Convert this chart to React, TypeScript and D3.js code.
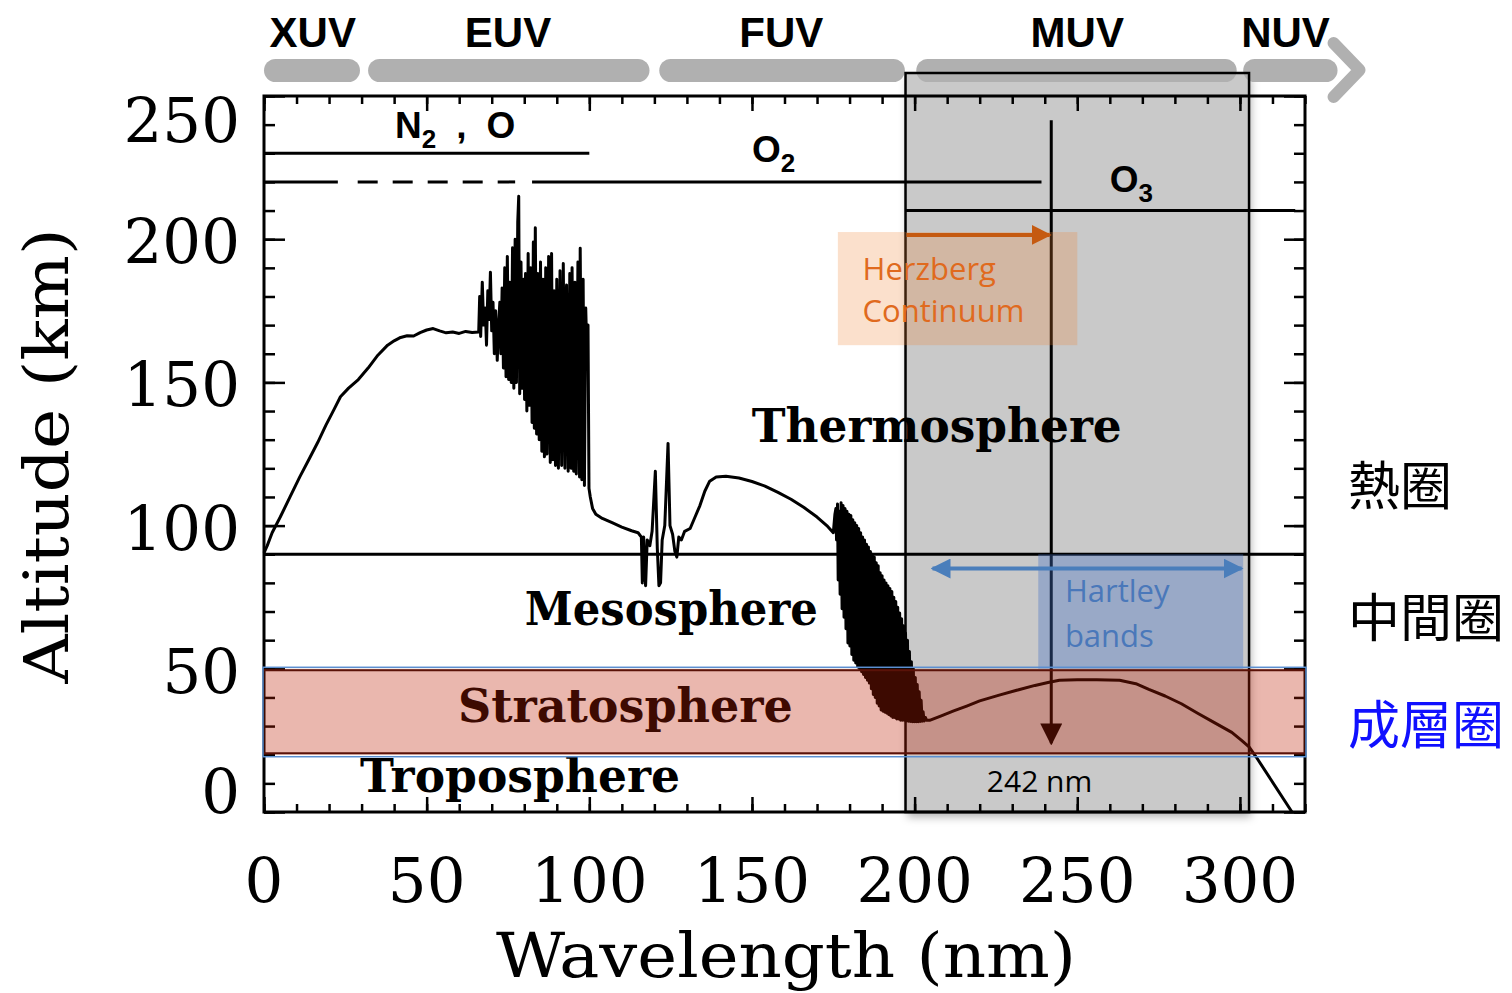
import React, { useEffect, useRef } from 'react';
import * as d3 from 'd3';

// spectral regions shown as grey bars above the plot (nm)
const uvBands = ['XUV', 'EUV', 'FUV', 'MUV', 'NUV'];
const uvStart = [0, 32, 121.5, 200.5, 301];
const uvEnd = [29.5, 118.5, 197, 299, 330];
const uvLabelAt = [15, 75, 159, 250, 314];

const xTickLabels = [0, 50, 100, 150, 200, 250, 300];
const yTickLabels = [0, 50, 100, 150, 200, 250];

// altitude of unit optical depth, [wavelength nm, altitude km]
const smoothPart: [number, number][] = [
    [0, 90.5], [1, 93], [2.5, 97.5], [5, 103], [8, 110], [11, 117], [14, 123.5], [16.5, 129],
    [19, 135], [21.5, 140.5], [23.5, 145], [26, 148], [29, 151], [32, 155], [35, 159.5], [38, 163],
    [40, 164.5], [42, 165.7], [44, 166.3], [46, 166.2], [48, 167.4], [50, 168.3], [52, 168.8],
    [54, 168], [56, 167.3], [58, 167.6], [60, 167.1], [62, 167.8], [64, 167.4], [66, 167.6],
];
const euvBandsPart: [number, number][] = [
    [66.3, 180], [66.6, 166], [67.1, 185], [67.5, 170], [68, 176], [68.4, 163], [68.8, 182], [69.2, 172],
    [69.6, 188.5], [70, 168], [70.4, 178], [70.8, 160], [71.2, 175], [71.7, 157.7], [72.1, 170], [72.5, 178],
    [72.8, 160], [73.2, 183], [73.6, 155], [74, 190], [74.4, 152], [74.8, 194], [75.2, 151], [75.6, 185],
    [76, 150], [76.4, 197], [76.8, 148], [77.2, 200], [77.6, 150], [78, 206], [78.3, 215], [78.6, 146],
    [79, 192], [79.4, 148], [79.8, 186], [80.1, 144], [80.4, 188], [80.8, 140], [81.2, 195], [81.6, 142],
    [82, 190], [82.4, 136], [82.8, 199], [83.1, 134], [83.4, 204], [83.8, 132], [84.2, 188], [84.6, 130],
    [85, 192], [85.4, 126], [85.8, 186], [86.2, 124], [86.6, 190], [87, 125], [87.5, 194], [88, 122],
    [88.4, 195], [88.8, 123], [89.2, 182], [89.6, 121], [90, 186], [90.5, 120], [91, 189], [91.5, 121],
    [92, 191.5], [92.5, 120], [93, 184], [93.5, 119], [94, 188], [94.4, 120], [94.7, 190], [95.2, 119],
    [95.6, 185], [96, 118], [96.5, 192], [97, 117], [97.2, 196.8], [97.7, 116], [98.1, 186], [98.5, 114],
    [98.9, 176], [99.3, 157.7], [99.6, 170], [99.9, 113], [100.3, 110],
];
const lymanPart: [number, number][] = [
    [101, 106], [102, 104], [104, 102.5], [107, 101], [110, 99.5], [113, 98.2], [115, 97.5], [116, 96],
    [116.3, 80], [116.7, 96], [117.3, 79], [117.8, 95], [118.6, 93], [119.3, 98], [120.3, 119], [120.9, 92],
    [121.4, 79], [121.9, 80], [122.4, 95], [123.2, 100], [124.2, 128.7], [124.8, 100], [125.6, 97],
    [126.3, 91], [126.9, 89], [127.5, 96], [128.3, 95], [129.3, 98], [131, 99], [132.5, 103], [134, 107],
    [135.5, 112], [137, 115.5], [139, 117], [142, 117.2], [146, 116.6], [150, 115.4], [154, 113.8],
    [158, 111.6], [162, 109.2], [166, 106.3], [170, 103], [173, 100], [175, 97.5],
];
const srBandsPart: [number, number][] = [
    [175.5, 104], [175.8, 106], [176.0, 95], [176.3, 107.5], [176.5, 81], [176.8, 105], [177.1, 76],
    [177.4, 108], [177.7, 71], [178.0, 107], [178.3, 68], [178.6, 106], [178.9, 64], [179.2, 105],
    [179.5, 59], [179.8, 104], [180.1, 58], [180.4, 103.5], [180.7, 55], [181.0, 102], [181.3, 53],
    [181.6, 101], [181.9, 52], [182.2, 100], [182.5, 50.6], [182.8, 99], [183.1, 50], [183.4, 97.5],
    [183.7, 49], [184.0, 96], [184.3, 48], [184.6, 95], [184.9, 47], [185.2, 93.5], [185.5, 46],
    [185.8, 92.5], [186.1, 45], [186.4, 91], [186.7, 43], [187.0, 90], [187.3, 41], [187.6, 89],
    [187.9, 40], [188.2, 87], [188.5, 38], [188.8, 86], [189.1, 37], [189.4, 83.5], [189.7, 35.6],
    [190.0, 82.5], [190.3, 35.2], [190.6, 81], [190.9, 34.8], [191.2, 80], [191.5, 34.5], [191.8, 79],
    [192.1, 34], [192.4, 78], [192.7, 33.5], [193.0, 77], [193.3, 33], [193.6, 75], [193.9, 33],
    [194.2, 73.5], [194.5, 32.5], [194.8, 71.5], [195.1, 32.5], [195.4, 69.5], [195.7, 32], [196.0, 67.5],
    [196.3, 32], [196.6, 65], [196.9, 32], [197.2, 62.5], [197.5, 31.8], [197.8, 60], [198.1, 31.7],
    [198.4, 56], [198.7, 31.6], [199.0, 52.5], [199.3, 31.5], [199.6, 50], [199.9, 31.5], [200.2, 47],
    [200.5, 31.5], [200.8, 44.5], [201.1, 31.5], [201.4, 42], [201.7, 31.6], [202.0, 39], [202.3, 31.7],
    [202.6, 35], [202.9, 31.8], [203.3, 33], [203.7, 32],
];
const ozonePart: [number, number][] = [
    [204.6, 32], [208, 33.5], [212, 35.3], [216, 37], [220, 38.8], [226, 40.8], [232, 42.7], [237, 44.2],
    [241, 45.2], [244.5, 46], [250, 46.2], [256, 46.2], [263, 46], [268, 44.8], [272, 42.8], [277, 40.5],
    [282, 37.8], [287, 34.5], [292, 31.3], [297.5, 27.8], [300.5, 25], [302.8, 22.7], [305, 19.2], [316, 0],
];

// absorber boundaries: N2/O, O2, O3 (km) and wavelength spans (nm)
const absorberAlt = [230, 220, 210];
const absorberFrom = [0, 0, 197.2];
const absorberTo = [100, 239, 317];
const o2Dashed = [28.8, 77.2];
const o2Gap = [22.7, 82.4];

const layerNames = ['Thermosphere', 'Mesosphere', 'Stratosphere', 'Troposphere'];
const zhLayers = ['熱圈', '中間圈', '成層圈'];
const mesopause = 90;
const stratosphere = [20, 50];

const muvWindow = [197.2, 302.8];
const herzbergBox = [176.4, 250, 163, 202.5];
const hartleyBox = [238, 301, 50, 90];
const herzbergArrow = [197.5, 241.5, 201.5];
const hartleyArrow = [205.5, 300.5, 85];
const cutoff = 242;
const cutoffArrow = [241.5, 24];

const App = () => {
    const ref = useRef<SVGSVGElement>(null);

    useEffect(() => {
        const svg = d3.select(ref.current);
        svg.selectAll('*').remove();

        const x = d3.scaleLinear().domain([0, 320]).range([264, 1305]);
        const y = d3.scaleLinear().domain([0, 250]).range([812, 96]);
        const serif = '"DejaVu Serif", serif';
        const sans = '"Liberation Sans", Arial, sans-serif';
        const office = '"Open Sans", sans-serif';

        const defs = svg.append('defs');
        defs.append('filter').attr('id', 'shadow')
            .attr('x', '-10%').attr('y', '-10%').attr('width', '125%').attr('height', '125%')
            .append('feDropShadow').attr('dx', 2).attr('dy', 5).attr('stdDeviation', 4)
            .attr('flood-color', '#000').attr('flood-opacity', 0.3);
        const addMarker = (id, color, size) => {
            defs.append('marker').attr('id', id)
                .attr('viewBox', '0 0 10 10').attr('refX', 9).attr('refY', 5)
                .attr('markerUnits', 'userSpaceOnUse')
                .attr('markerWidth', size).attr('markerHeight', size)
                .attr('orient', 'auto-start-reverse')
                .append('path').attr('d', 'M0,0L10,5L0,10Z').attr('fill', color);
        };
        addMarker('arrOrange', '#C55A11', 20);
        addMarker('arrBlue', '#4A7EBB', 20);
        addMarker('arrBlack', '#000', 22);

        // grey MUV window (fill first)
        svg.append('rect')
            .attr('x', x(muvWindow[0])).attr('y', 73)
            .attr('width', x(muvWindow[1]) - x(muvWindow[0])).attr('height', y(0) - 73)
            .attr('fill', '#c9c9c9').attr('filter', 'url(#shadow)');

        // UV region bars
        uvBands.forEach((name, i) => {
            svg.append('rect')
                .attr('x', x(uvStart[i])).attr('y', 59)
                .attr('width', x(uvEnd[i]) - x(uvStart[i])).attr('height', 23)
                .attr('rx', 11.5).attr('fill', '#b0b0b0');
            svg.append('text')
                .attr('x', x(uvLabelAt[i])).attr('y', 47)
                .attr('text-anchor', 'middle')
                .attr('font-family', sans).attr('font-weight', 'bold').attr('font-size', 42)
                .text(name);
        });
        svg.append('path')
            .attr('d', `M${x(330) - 4},43 L${x(330) + 22},70 L${x(330) - 4},97`)
            .attr('fill', 'none').attr('stroke', '#b0b0b0').attr('stroke-width', 12)
            .attr('stroke-linecap', 'round').attr('stroke-linejoin', 'round');

        svg.append('rect')
            .attr('x', x(muvWindow[0])).attr('y', 73)
            .attr('width', x(muvWindow[1]) - x(muvWindow[0])).attr('height', y(0) - 73)
            .attr('fill', 'none').attr('stroke', '#000').attr('stroke-width', 2.5);

        // ticks on all four sides
        const tickStyle = (g) => {
            g.select('.domain').remove();
            g.selectAll('line').attr('stroke', '#000').attr('stroke-width', 2.5);
        };
        const xMinor = x.ticks(32);
        const yMinor = y.ticks(25);
        svg.append('g').attr('transform', `translate(0,${y(0)})`)
            .call(d3.axisBottom(x).tickValues(xMinor).tickSize(-8).tickFormat(() => '')).call(tickStyle);
        svg.append('g').attr('transform', `translate(0,${y(0)})`)
            .call(d3.axisBottom(x).tickValues(xTickLabels).tickSize(-15).tickFormat(() => '')).call(tickStyle);
        svg.append('g').attr('transform', `translate(0,${y(250)})`)
            .call(d3.axisTop(x).tickValues(xMinor).tickSize(-8).tickFormat(() => '')).call(tickStyle);
        svg.append('g').attr('transform', `translate(0,${y(250)})`)
            .call(d3.axisTop(x).tickValues(xTickLabels).tickSize(-15).tickFormat(() => '')).call(tickStyle);
        svg.append('g').attr('transform', `translate(${x(0)},0)`)
            .call(d3.axisLeft(y).tickValues(yMinor).tickSize(-11).tickFormat(() => '')).call(tickStyle);
        svg.append('g').attr('transform', `translate(${x(0)},0)`)
            .call(d3.axisLeft(y).tickValues(yTickLabels).tickSize(-21).tickFormat(() => '')).call(tickStyle);
        svg.append('g').attr('transform', `translate(${x(320)},0)`)
            .call(d3.axisRight(y).tickValues(yMinor).tickSize(-11).tickFormat(() => '')).call(tickStyle);
        svg.append('g').attr('transform', `translate(${x(320)},0)`)
            .call(d3.axisRight(y).tickValues(yTickLabels).tickSize(-21).tickFormat(() => '')).call(tickStyle);

        svg.append('rect')
            .attr('x', x(0)).attr('y', y(250))
            .attr('width', x(320) - x(0)).attr('height', y(0) - y(250))
            .attr('fill', 'none').attr('stroke', '#000').attr('stroke-width', 3);

        // absorber boundary lines
        const hline = (a, b, km, dash?) => {
            svg.append('line')
                .attr('x1', x(a)).attr('x2', x(b)).attr('y1', y(km)).attr('y2', y(km))
                .attr('stroke', '#000').attr('stroke-width', 3)
                .attr('stroke-dasharray', dash || null);
        };
        hline(absorberFrom[0], absorberTo[0], absorberAlt[0]);
        hline(absorberFrom[1], o2Gap[0], absorberAlt[1]);
        hline(o2Dashed[0], o2Dashed[1], absorberAlt[1], '20 15');
        hline(o2Gap[1], absorberTo[1], absorberAlt[1]);
        hline(absorberFrom[2], absorberTo[2], absorberAlt[2]);
        hline(0, 320, mesopause);

        // absorption curve
        const line = d3.line<[number, number]>().x(d => x(d[0])).y(d => y(d[1]));
        const absorption = [...smoothPart, ...euvBandsPart, ...lymanPart, ...srBandsPart, ...ozonePart];
        svg.append('path')
            .attr('d', line(absorption))
            .attr('fill', 'none').attr('stroke', '#000').attr('stroke-width', 3)
            .attr('stroke-linejoin', 'round');

        // 242 nm cutoff
        svg.append('line')
            .attr('x1', x(cutoff)).attr('x2', x(cutoff))
            .attr('y1', y(cutoffArrow[0])).attr('y2', y(cutoffArrow[1]))
            .attr('stroke', '#000').attr('stroke-width', 3)
            .attr('marker-end', 'url(#arrBlack)');

        // layer names
        const layerPos = [[206.8, 129.2, 370], [125.2, 65.3, 293], [111.1, 31.4, 335], [78.7, 7, 320]];
        layerNames.forEach((name, i) => {
            svg.append('text')
                .attr('x', x(layerPos[i][0])).attr('y', y(layerPos[i][1]))
                .attr('text-anchor', 'middle')
                .attr('font-family', serif).attr('font-weight', 'bold').attr('font-size', 46)
                .attr('textLength', layerPos[i][2]).attr('lengthAdjust', 'spacingAndGlyphs')
                .text(name);
        });

        // molecule labels
        const molecule = (nm, km, base, sub, tail?) => {
            const t = svg.append('text').attr('x', x(nm)).attr('y', y(km))
                .attr('font-family', sans).attr('font-weight', 'bold').attr('font-size', 37);
            t.append('tspan').text(base);
            t.append('tspan').attr('font-size', 26).attr('dy', 10).text(sub);
            if (tail) {
                t.append('tspan').attr('dy', -10).attr('dx', 20).text(',');
                t.append('tspan').attr('dx', 20).text(tail);
            }
        };
        molecule(40.3, 235.3, 'N', '2', 'O');
        molecule(150, 227, 'O', '2');
        molecule(260, 216.5, 'O', '3');

        // translucent overlays
        svg.append('rect')
            .attr('x', x(herzbergBox[0])).attr('y', y(herzbergBox[3]))
            .attr('width', x(herzbergBox[1]) - x(herzbergBox[0]))
            .attr('height', y(herzbergBox[2]) - y(herzbergBox[3]))
            .attr('fill', 'rgb(240,130,50)').attr('opacity', 0.25);
        svg.append('rect')
            .attr('x', x(hartleyBox[0])).attr('y', y(hartleyBox[3]))
            .attr('width', x(hartleyBox[1]) - x(hartleyBox[0]))
            .attr('height', y(hartleyBox[2]) - y(hartleyBox[3]))
            .attr('fill', 'rgb(68,114,196)').attr('opacity', 0.36);
        svg.append('rect')
            .attr('x', x(0)).attr('y', y(stratosphere[1]))
            .attr('width', x(320) - x(0)).attr('height', y(stratosphere[0]) - y(stratosphere[1]))
            .attr('fill', 'rgb(189,30,2)').attr('opacity', 0.32);
        [y(stratosphere[1]) + 1.5, y(stratosphere[0]) - 1.5].forEach(v => {
            svg.append('line').attr('x1', x(0)).attr('x2', x(320)).attr('y1', v).attr('y2', v)
                .attr('stroke', '#5a1208').attr('stroke-width', 2);
        });
        svg.append('rect')
            .attr('x', x(0) - 1).attr('y', y(stratosphere[1]) - 1.5)
            .attr('width', x(320) - x(0) + 2).attr('height', y(stratosphere[0]) - y(stratosphere[1]) + 3.5)
            .attr('fill', 'none').attr('stroke', '#5b8fd0').attr('stroke-width', 1.5);

        // arrows
        svg.append('line')
            .attr('x1', x(herzbergArrow[0])).attr('x2', x(herzbergArrow[1]))
            .attr('y1', y(herzbergArrow[2])).attr('y2', y(herzbergArrow[2]))
            .attr('stroke', '#C55A11').attr('stroke-width', 4)
            .attr('marker-end', 'url(#arrOrange)');
        svg.append('line')
            .attr('x1', x(hartleyArrow[0])).attr('x2', x(hartleyArrow[1]))
            .attr('y1', y(hartleyArrow[2])).attr('y2', y(hartleyArrow[2]))
            .attr('stroke', '#4A7EBB').attr('stroke-width', 4)
            .attr('marker-start', 'url(#arrBlue)').attr('marker-end', 'url(#arrBlue)');

        // annotation text
        const note = (nm, km, txt, color) => {
            svg.append('text').attr('x', x(nm)).attr('y', y(km))
                .attr('font-family', office).attr('font-size', 31).attr('fill', color).text(txt);
        };
        note(184, 185.8, 'Herzberg', '#E06A1E');
        note(184, 171.1, 'Continuum', '#E06A1E');
        note(246.2, 73.3, 'Hartley', '#4A78BA');
        note(246.2, 57.6, 'bands', '#4A78BA');
        svg.append('text').attr('x', x(222.2)).attr('y', y(7))
            .attr('font-family', office).attr('font-size', 30).attr('fill', '#000').text('242 nm');

        // tick labels
        svg.selectAll('.xlab').data(xTickLabels).join('text')
            .attr('class', 'xlab')
            .attr('x', d => x(d)).attr('y', 902)
            .attr('text-anchor', 'middle')
            .attr('font-family', serif).attr('font-size', 61)
            .text(d => d);
        svg.selectAll('.ylab').data(yTickLabels).join('text')
            .attr('class', 'ylab')
            .attr('x', 240)
            .attr('y', d => Math.min(Math.max(y(d) + 2, y(250) + 24), y(0) - 21) + 22)
            .attr('text-anchor', 'end')
            .attr('font-family', serif).attr('font-size', 61)
            .text(d => d);

        // axis titles
        svg.append('text')
            .attr('x', 786).attr('y', 977)
            .attr('text-anchor', 'middle')
            .attr('font-family', serif).attr('font-size', 61)
            .attr('textLength', 580).attr('lengthAdjust', 'spacingAndGlyphs')
            .text('Wavelength (nm)');
        svg.append('text')
            .attr('transform', 'translate(68,456) rotate(-90)')
            .attr('text-anchor', 'middle')
            .attr('font-family', serif).attr('font-size', 61)
            .attr('textLength', 455).attr('lengthAdjust', 'spacingAndGlyphs')
            .text('Altitude (km)');

        // Chinese layer names
        const zhY = [482, 614, 721];
        zhLayers.forEach((name, i) => {
            svg.append('text')
                .attr('x', 1348).attr('y', zhY[i])
                .attr('dominant-baseline', 'central')
                .attr('font-family', '"Noto Sans CJK TC", sans-serif').attr('font-size', 52)
                .attr('fill', i === 2 ? '#1010ff' : '#000')
                .text(name);
        });
    }, []);

    return (
        <svg
            ref={ref}
            width={1512}
            height={993}
            style={{ position: 'absolute', left: 0, top: 0, background: '#fff' }}
        />
    );
};

export default App;
